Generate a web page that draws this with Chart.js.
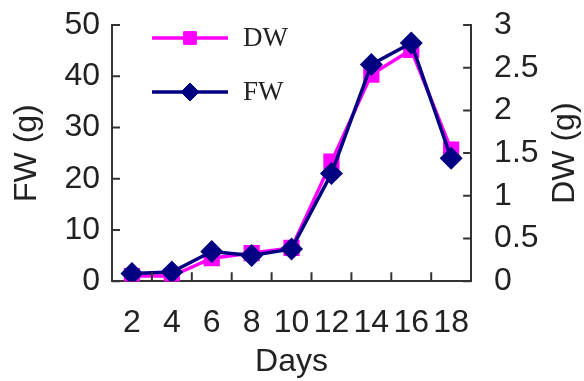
<!DOCTYPE html>
<html>
<head>
<meta charset="utf-8">
<script src="https://cdn.jsdelivr.net/npm/chart.js@4"></script>
<style>
  html, body { margin: 0; padding: 0; background: #fff; }
  #wrap { width: 584px; height: 381px; }
</style>
</head>
<body>
<div id="wrap"><canvas id="chart"></canvas></div>
<script>
const days = ["2", "4", "6", "8", "10", "12", "14", "16", "18"];
const dwValues = [0.06, 0.06, 0.27, 0.33, 0.39, 1.40, 2.42, 2.71, 1.54];
const fwValues = [1.5, 1.8, 5.8, 5.0, 6.3, 21.0, 42.3, 46.5, 24.0];

const axisColor = "#333";
const textColor = "#222";
const tickFont = { family: "'Liberation Sans', Arial, sans-serif", size: 32 };

const ctx = document.querySelector("#chart").getContext("2d");

// legend drawn inside the plot, line + marker sample like the original
const insideLegend = {
    id: "insideLegend",
    afterDatasetsDraw(chart) {
        const c = chart.ctx;
        const area = chart.chartArea;
        chart.data.datasets.forEach((ds, i) => {
            const y = area.top + 13 + i * 54;
            const x0 = area.left + 40;
            const x1 = area.left + 116;
            c.save();
            c.strokeStyle = ds.borderColor;
            c.lineWidth = ds.borderWidth;
            c.beginPath();
            c.moveTo(x0, y);
            c.lineTo(x1, y);
            c.stroke();
            c.fillStyle = ds.backgroundColor;
            c.lineWidth = 1;
            Chart.helpers.drawPoint(c, { pointStyle: ds.pointStyle, radius: ds.pointRadius, borderWidth: 1 }, (x0 + x1) / 2, y);
            c.fillStyle = textColor;
            c.font = "27px 'Liberation Serif', 'Times New Roman', serif";
            c.textBaseline = "middle";
            c.fillText(ds.label, x1 + 15, y + 1);
            c.restore();
        });
    },
};

// tick marks pointing into the plot, and the right title read bottom-to-top
const innerTicks = {
    id: "innerTicks",
    afterDraw(chart) {
        const c = chart.ctx;
        const area = chart.chartArea;
        const { x, y, y1 } = chart.scales;
        c.save();
        c.strokeStyle = axisColor;
        c.lineWidth = 2;
        c.beginPath();
        y.ticks.forEach((t, i) => {
            const py = y.getPixelForTick(i);
            c.moveTo(area.left, py);
            c.lineTo(area.left + 8, py);
        });
        y1.ticks.forEach((t, i) => {
            const py = y1.getPixelForTick(i);
            c.moveTo(area.right, py);
            c.lineTo(area.right - 8, py);
        });
        for (let i = 1; i < x.ticks.length; i++) {
            const px = (x.getPixelForTick(i - 1) + x.getPixelForTick(i)) / 2;
            c.moveTo(px, area.bottom);
            c.lineTo(px, area.bottom - 9);
        }
        c.stroke();

        const t = y1.options.title;
        c.translate(y1.right - 19, (area.top + area.bottom) / 2);
        c.rotate(-Math.PI / 2);
        c.fillStyle = textColor;
        c.font = "32px " + tickFont.family;
        c.textAlign = "center";
        c.textBaseline = "middle";
        c.fillText(t.text, 0, 0);
        c.restore();
    },
};

new Chart(ctx, {
    type: "line",
    data: {
        labels: days,
        datasets: [
            {
                label: "DW",
                data: dwValues,
                yAxisID: "y1",
                borderColor: "#ff00ff",
                backgroundColor: "#ff00ff",
                pointStyle: "rect",
                pointRadius: 9,
                borderWidth: 3.5,
                order: 2,
            },
            {
                label: "FW",
                data: fwValues,
                yAxisID: "y",
                borderColor: "#000080",
                backgroundColor: "#000080",
                pointStyle: "rectRot",
                pointRadius: 9,
                borderWidth: 3.5,
                order: 1,
            },
        ],
    },
    options: {
        responsive: true,
        maintainAspectRatio: false,
        animation: false,
        layout: { padding: { left: 8, right: 0, top: 25, bottom: 0 } },
        elements: { line: { tension: 0 } },
        plugins: {
            legend: { display: false },
            tooltip: { enabled: false },
        },
        scales: {
            x: {
                offset: true,
                grid: { offset: true, drawOnChartArea: false, tickLength: 23, tickColor: "transparent" },
                border: { color: axisColor, width: 2 },
                ticks: { font: tickFont, color: textColor, padding: 0, autoSkip: false, maxRotation: 0 },
                title: { display: true, text: "Days", font: tickFont, color: textColor, padding: 0 },
            },
            y: {
                position: "left",
                min: 0,
                max: 50,
                grid: { drawOnChartArea: false, tickLength: 12, tickColor: "transparent" },
                border: { color: axisColor, width: 2 },
                ticks: { stepSize: 10, font: tickFont, color: textColor, padding: 0, autoSkip: false },
                title: { display: true, text: "FW (g)", font: tickFont, color: textColor, padding: { top: 0, bottom: 18 } },
            },
            y1: {
                position: "right",
                min: 0,
                max: 3,
                grid: { drawOnChartArea: false, tickLength: 23, tickColor: "transparent" },
                border: { color: axisColor, width: 2 },
                ticks: {
                    stepSize: 0.5, font: tickFont, color: textColor, padding: 0, autoSkip: false,
                    callback: (v) => String(v),
                },
                title: { display: true, text: "DW (g)", font: tickFont, color: "transparent", padding: { top: 0, bottom: 7 } },
            },
        },
    },
    plugins: [insideLegend, innerTicks],
});
</script>
</body>
</html>
